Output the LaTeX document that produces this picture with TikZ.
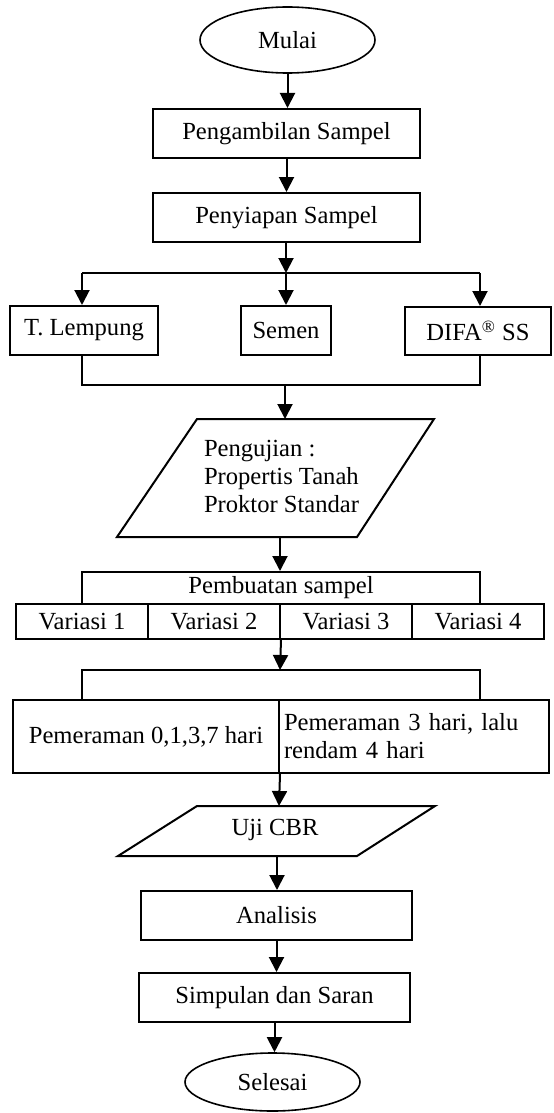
\documentclass[tikz,border=0pt]{standalone}
\usepackage{fontspec}
\setmainfont{Liberation Serif}
\usetikzlibrary{arrows.meta,shapes.geometric}
\begin{document}
\begin{tikzpicture}[x=0.5pt,y=-0.5pt,
  font=\fontsize{12.3}{14}\selectfont,
  line width=1pt,
  box/.style={draw, rectangle, inner sep=0pt, line width=1pt},
  term/.style={draw, ellipse, inner sep=0pt, line width=0.8pt},
  txt/.style={inner sep=0pt},
  arr/.style={-{Triangle[width=7.5pt,length=7.5pt]}, line width=1pt},
  ln/.style={line width=1pt}]
\useasboundingbox (0,0) rectangle (553,1113);

% top
\node[term, minimum width=87.5pt, minimum height=33pt] (mulai) at (287.5,40) {Mulai};
\node[box, minimum width=133.5pt, minimum height=24.5pt] (ambil) at (286.5,133.5) {Pengambilan Sampel};
\node[box, minimum width=133.5pt, minimum height=24.5pt] (siap) at (286.5,217.5) {Penyiapan Sampel};
\draw[arr] (mulai.south) -- (mulai.south |- ambil.north);
\draw[arr] (ambil.south) -- (ambil.south |- siap.north);

% split
\coordinate (split) at (286,273);
\coordinate (sL) at (82,273);
\coordinate (sR) at (480,273);
\draw[arr] (split |- siap.south) -- (split);
\draw[ln] (sL) -- (sR);

\node[box, minimum width=74pt, minimum height=24.5pt] (lemp) at (84,330.5) {T. Lempung};
\node[box, minimum width=45pt, minimum height=24.5pt] (semen) at (286,330.5) {Semen};
\node[box, minimum width=73pt, minimum height=24pt] (difa) at (478,331) {DIFA\textsuperscript{®} SS};
\draw[arr] (sL) -- (sL |- lemp.north);
\draw[arr] (split) -- (split |- semen.north);
\draw[arr] (sR) -- (sR |- difa.north);

% merge
\coordinate (mL) at (82,385);
\coordinate (mR) at (480,385);
\coordinate (merge) at (285,385);
\coordinate (pgTop) at (285,419);
\coordinate (pgBot) at (280,537);
\draw[ln] (mL |- lemp.south) -- (mL) -- (mR) -- (mR |- difa.south);
\draw[arr] (merge) -- (pgTop);

% pengujian parallelogram
\draw[ln] (117,537) -- (197,419) -- (434,419) -- (357,537) -- cycle;
\node[txt, align=left, anchor=west] (uji) at (203,476) {Pengujian :\\Propertis Tanah\\Proktor Standar};

% pembuatan sampel
\node[box, minimum width=199pt, minimum height=16pt] (buat) at (281,588) {Pembuatan sampel};
\draw[arr] (pgBot) -- (pgBot |- buat.north);
\node[box, minimum width=66pt, minimum height=17.5pt] (v1) at (82,621.5) {Variasi 1};
\node[box, minimum width=66pt, minimum height=17.5pt] (v2) at (214,621.5) {Variasi 2};
\node[box, minimum width=66pt, minimum height=17.5pt] (v3) at (346,621.5) {Variasi 3};
\node[box, minimum width=66pt, minimum height=17.5pt] (v4) at (478,621.5) {Variasi 4};

% open box
\coordinate (oTop) at (280,670);
\coordinate (oL) at (82,670);
\coordinate (oR) at (480,670);
\draw[arr] (v2.south east) -- (oTop);
\draw[ln] (oL |- 0,700) -- (oL) -- (oR) -- (oR |- 0,700);

% pemeraman
\node[box, minimum width=133pt, minimum height=36.5pt] (p1) at (146,736.5) {Pemeraman 0,1,3,7 hari};
\node[box, minimum width=135pt, minimum height=36.5pt, inner xsep=2.5pt, text width=130pt, align=left] (p2) at (414,736.5) {Pemeraman 3 hari, lalu\\rendam 4 hari};

% uji CBR
\coordinate (cbrTop) at (279,806);
\coordinate (cbrBot) at (277,856);
\draw[arr] (p1.south east) -- (cbrTop);
\draw[ln] (118,856) -- (197,806) -- (435,806) -- (357,856) -- cycle;
\node[txt] (cbr) at (275,830) {Uji CBR};

% bottom
\node[box, minimum width=135.5pt, minimum height=24.5pt] (anal) at (276.5,915.5) {Analisis};
\node[box, minimum width=135.5pt, minimum height=24.5pt] (simp) at (274.5,997.5) {Simpulan dan Saran};
\node[term, minimum width=87.5pt, minimum height=29pt] (sel) at (272.5,1082) {Selesai};
\draw[arr] (cbrBot) -- (cbrBot |- anal.north);
\draw[arr] (anal.south) -- (anal.south |- simp.north);
\draw[arr] (simp.south) -- (simp.south |- sel.north);
\end{tikzpicture}
\end{document}
